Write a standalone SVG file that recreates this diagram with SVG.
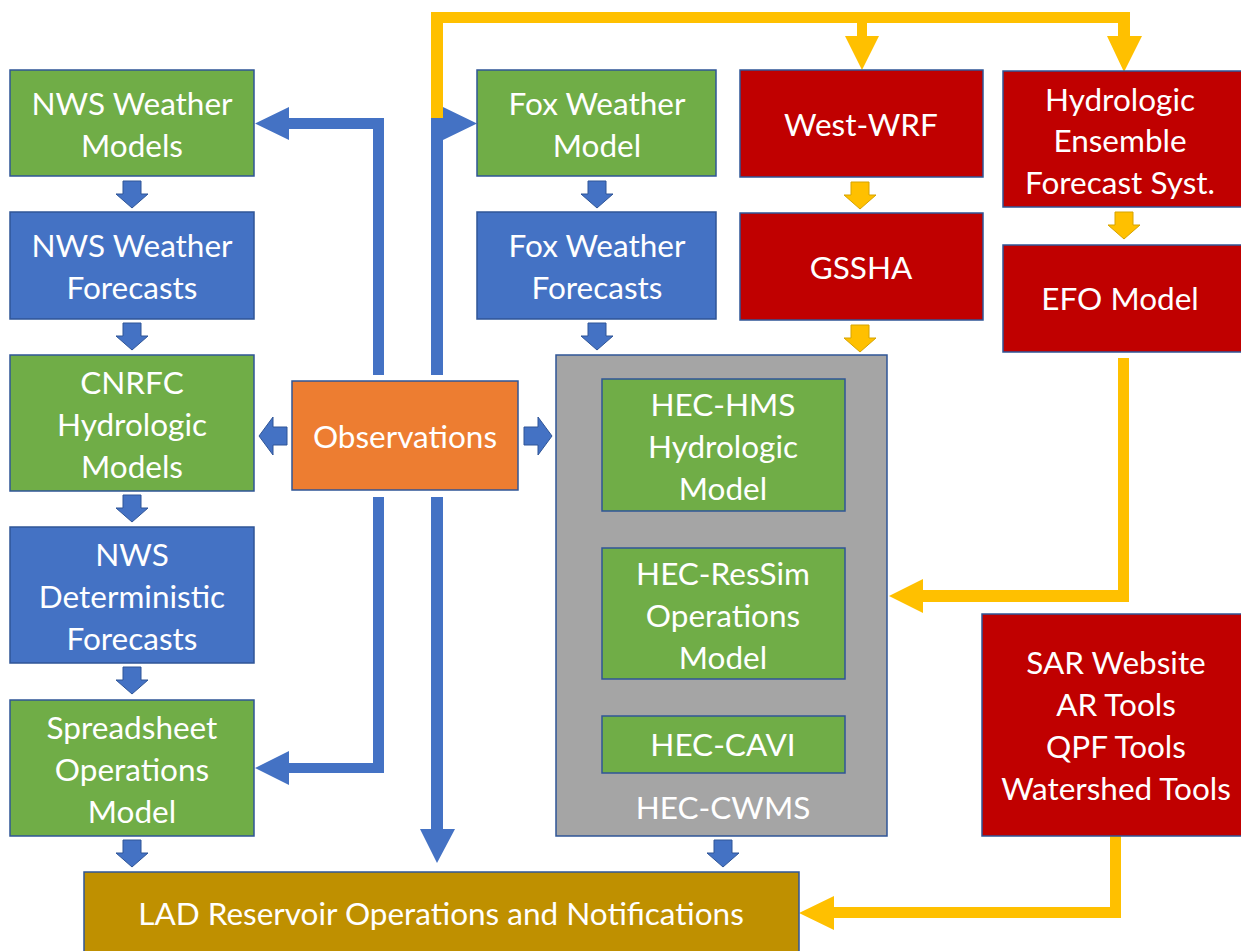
<svg xmlns="http://www.w3.org/2000/svg" width="1241" height="951" viewBox="0 0 1241 951">
<defs>
<style>
.box{stroke:#2F5597;stroke-width:1.5}
.g{fill:#70AD47}.b{fill:#4472C4}.r{fill:#C00000}.o{fill:#ED7D31}.gr{fill:#A5A5A5}.au{fill:#BF9000}
text{font-family:Lato,"Open Sans","Liberation Sans",sans-serif;font-size:31.5px;fill:#fff;text-anchor:middle}
.ba{fill:#4472C4;stroke:#2F5597;stroke-width:1}
.ya{fill:#FFC000;stroke:#D6A300;stroke-width:1}
.bl{fill:#4472C4}
.yl{fill:#FFC000}
</style>
<path id="da" d="M-9,0 H9 V13 H16 L0,27 L-16,13 H-9 Z"/>
</defs>
<g id="connectors">
<use href="#da" class="ba" x="132" y="181"/>
<use href="#da" class="ba" x="132" y="323"/>
<use href="#da" class="ba" x="132" y="495"/>
<use href="#da" class="ba" x="132" y="667"/>
<use href="#da" class="ba" x="132" y="840"/>
<use href="#da" class="ba" x="597" y="181"/>
<use href="#da" class="ba" x="597" y="323"/>
<use href="#da" class="ba" x="723" y="840"/>
<use href="#da" class="ya" x="860" y="182"/>
<use href="#da" class="ya" x="860" y="325"/>
<use href="#da" class="ya" x="1124" y="212"/>
<path class="ba" d="M287,427 H273 V417 L259,436 L273,455 V445 H287 Z"/>
<path class="ba" d="M524,427 H538 V417 L552,436 L538,455 V445 H524 Z"/>
<path class="bl" d="M384,375 V118 H289 V107 L255,123.5 L289,140 V129 H373 V375 Z"/>
<path class="bl" d="M431,375 V118 H443 V107 L477,123.5 L443,140 V375 Z"/>
<path class="bl" d="M373,497 V763 H289 V751 L255,768 L289,785 V773 H384 V497 Z"/>
<path class="bl" d="M431,497 V829 H420 L437,863 L455,829 H443 V497 Z"/>
<path class="yl" d="M431,118 V12 H1130 V36 H1142 L1124,72 L1107,36 H1118 V23 H867 V36 H879 L862,70 L845,36 H857 V23 H443 V118 Z"/>
<path class="yl" d="M1118,358 H1129 V602 H923 V613 L889,596 L923,579 V590 H1118 Z"/>
<path class="yl" d="M1110,836 H1121 V918 H834 V930 L799,913 L834,896 V907 H1110 Z"/>
</g>
<g id="nws-weather-models"><rect class="box g" x="10" y="70" width="244" height="106"/><text x="132" y="115">NWS Weather</text><text x="132" y="157">Models</text></g>
<g id="nws-weather-forecasts"><rect class="box b" x="10" y="212" width="244" height="107"/><text x="132" y="257">NWS Weather</text><text x="132" y="299">Forecasts</text></g>
<g id="cnrfc"><rect class="box g" x="10" y="355" width="244" height="136"/><text x="132" y="394">CNRFC</text><text x="132" y="436">Hydrologic</text><text x="132" y="478">Models</text></g>
<g id="nws-deterministic"><rect class="box b" x="10" y="527" width="244" height="136"/><text x="132" y="566">NWS</text><text x="132" y="608">Deterministic</text><text x="132" y="650">Forecasts</text></g>
<g id="spreadsheet"><rect class="box g" x="10" y="700" width="244" height="136"/><text x="132" y="739">Spreadsheet</text><text x="132" y="781">Operations</text><text x="132" y="823">Model</text></g>
<g id="observations"><rect class="box o" x="292" y="381" width="226" height="109"/><text x="405" y="448">Observations</text></g>
<g id="fox-weather-model"><rect class="box g" x="477" y="70" width="239" height="106"/><text x="597" y="115">Fox Weather</text><text x="597" y="157">Model</text></g>
<g id="fox-weather-forecasts"><rect class="box b" x="477" y="212" width="239" height="107"/><text x="597" y="257">Fox Weather</text><text x="597" y="299">Forecasts</text></g>
<g id="west-wrf"><rect class="box r" x="740" y="70" width="243" height="107"/><text x="861" y="136">West-WRF</text></g>
<g id="gssha"><rect class="box r" x="740" y="213" width="243" height="107"/><text x="861" y="279">GSSHA</text></g>
<g id="hefs"><rect class="box r" x="1003" y="71" width="245" height="136"/><text x="1120" y="111">Hydrologic</text><text x="1120" y="152">Ensemble</text><text x="1120" y="194">Forecast Syst.</text></g>
<g id="efo-model"><rect class="box r" x="1003" y="245" width="245" height="107"/><text x="1120" y="310">EFO Model</text></g>
<g id="hec-cwms"><rect class="box gr" x="556" y="355" width="331" height="481"/><text x="723" y="819">HEC-CWMS</text></g>
<g id="hec-hms"><rect class="box g" x="602" y="379" width="243" height="132"/><text x="723" y="416">HEC-HMS</text><text x="723" y="458">Hydrologic</text><text x="723" y="500">Model</text></g>
<g id="hec-ressim"><rect class="box g" x="602" y="548" width="243" height="131"/><text x="723" y="585">HEC-ResSim</text><text x="723" y="627">Operations</text><text x="723" y="669">Model</text></g>
<g id="hec-cavi"><rect class="box g" x="602" y="716" width="243" height="57"/><text x="723" y="756">HEC-CAVI</text></g>
<g id="sar"><rect class="box r" x="982" y="614" width="266" height="222"/><text x="1116" y="674">SAR Website</text><text x="1116" y="716">AR Tools</text><text x="1116" y="758">QPF Tools</text><text x="1116" y="800">Watershed Tools</text></g>
<g id="lad"><rect class="box au" x="84" y="872" width="715" height="85"/><text x="441" y="925">LAD Reservoir Operations and Notifications</text></g>
</svg>
